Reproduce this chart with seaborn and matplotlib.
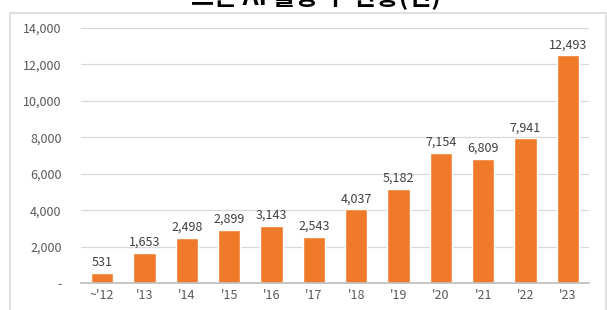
import matplotlib
matplotlib.use("Agg")
import matplotlib.pyplot as plt
import seaborn as sns
import pandas as pd
from matplotlib.patches import Rectangle
from matplotlib.ticker import FuncFormatter

years = ["~'12", "'13", "'14", "'15", "'16", "'17", "'18", "'19", "'20", "'21", "'22", "'23"]
counts = [531, 1653, 2498, 2899, 3143, 2543, 4037, 5182, 7154, 6809, 7941, 12493]
y_ticks = [0, 2000, 4000, 6000, 8000, 10000, 12000, 14000]
title = "드론 AI 활용 수 현황(건)"

df = pd.DataFrame({"year": years, "count": counts})

sns.set_theme(style="white")
plt.rcParams["font.family"] = ["Noto Sans CJK KR", "DejaVu Sans"]

fig = plt.figure(figsize=(6.07, 3.10), dpi=100)
ax = fig.add_axes([81 / 607, 1 - 283 / 310, 508 / 607, 255 / 310])

# light frame around the chart area
fig.patches.append(Rectangle((10 / 607, -0.05), 596 / 607, 1 - 13 / 310 + 0.05,
                             transform=fig.transFigure, fill=False,
                             edgecolor="#D9D9D9", linewidth=1.2))

sns.barplot(data=df, x="year", y="count", color="#EF7A2A", width=0.53,
            saturation=1, ax=ax)

ax.set_ylim(0, 14000)
ax.set_yticks(y_ticks)
ax.yaxis.set_major_formatter(FuncFormatter(lambda v, p: "-" if v == 0 else f"{int(v):,}"))
ax.grid(axis="y", color="#D9D9D9", linewidth=0.9)
ax.set_axisbelow(True)
for s in ["top", "right", "left"]:
    ax.spines[s].set_visible(False)
ax.spines["bottom"].set_color("#BFBFBF")
ax.tick_params(axis="both", length=0, labelsize=9, labelcolor="#595959")
ax.tick_params(axis="y", pad=14)
ax.tick_params(axis="x", pad=4)
ax.set_xlabel("")
ax.set_ylabel("")

for i, v in enumerate(counts):
    ax.annotate(f"{v:,}", (i, v), xytext=(0, 3), textcoords="offset points",
                ha="center", va="bottom", fontsize=9, color="#404040")

fig.text(0.52, 1 - 10 / 310, title, ha="center", va="bottom", fontsize=18,
         fontweight="bold", color="black")

fig.savefig("out.png", dpi=100)
